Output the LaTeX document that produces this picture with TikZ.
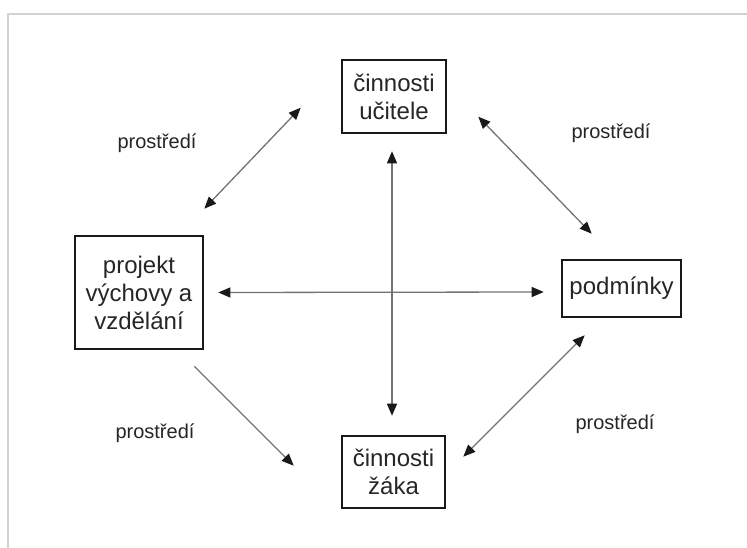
\documentclass[tikz,border=0pt]{standalone}
\usepackage{fontspec}
\setmainfont{Liberation Sans}
\usepackage{tikz}
\usetikzlibrary{arrows.meta,positioning,calc}
\tikzset{
  box/.style={draw=black!90, line width=2.6pt, align=center, text=black!85, inner sep=2pt,
              font=\fontsize{24}{28}\selectfont},
  lbl/.style={text=black!85, font=\fontsize{20}{24}\selectfont},
  tip/.style={Triangle[length=12pt,width=10pt,color=black!90]},
  arr/.style={-{Triangle[length=12pt,width=10pt,color=black!90]}, line width=1.3pt, draw=black!55},
  darr/.style={{Triangle[length=12pt,width=10pt,color=black!90]}-{Triangle[length=12pt,width=10pt,color=black!90]},
               line width=1.3pt, draw=black!55}
}
\begin{document}
\begin{tikzpicture}[x=1pt, y=-1pt]
\useasboundingbox (0,0) rectangle (747,548);
\fill[white] (0,0) rectangle (747,548);
\draw[gray!35, line width=1.6pt] (8,560) -- (8,14) -- (760,14);
% boxes
\node[box, minimum width=104pt, minimum height=73pt] (ucitel) at (394,96.5) {činnosti\\ učitele};
\node[box, minimum width=128pt, minimum height=113pt] (projekt) at (139,292.5) {projekt\\ výchovy a\\ vzdělání};
\node[box, minimum width=119pt, minimum height=57pt] (podm) at (621.5,288.5) {podmínky};
\node[box, minimum width=103pt, minimum height=72pt] (zak) at (393.5,472) {činnosti\\ žáka};
% labels
\node[lbl] (p1) at (157,143) {prostředí};
\node[lbl] (p2) at (611,133) {prostředí};
\node[lbl] (p3) at (155,433) {prostředí};
\node[lbl] (p4) at (615,424) {prostředí};
% arrows
\draw[darr] ([xshift=14pt]projekt.east) -- ([xshift=-17pt,yshift=-3.5pt]podm.west);
\draw[darr] ([xshift=-2pt,yshift=-17pt]ucitel.south) -- ([xshift=-1.5pt,yshift=19pt]zak.north);
\draw[darr] ([yshift=26pt]projekt.north east) -- ([xshift=-40pt,yshift=-49pt]ucitel.north west);
\draw[darr] ([xshift=31pt,yshift=-58pt]ucitel.north east) -- ([xshift=31pt,yshift=25pt]podm.north west);
\draw[arr] ([xshift=-10pt,yshift=-16pt]projekt.south east) -- ([xshift=-47pt,yshift=-31pt]zak.north west);
\draw[darr] ([xshift=24pt,yshift=-17pt]podm.south west) -- ([xshift=17pt,yshift=-22pt]zak.north east);
\end{tikzpicture}
\end{document}
